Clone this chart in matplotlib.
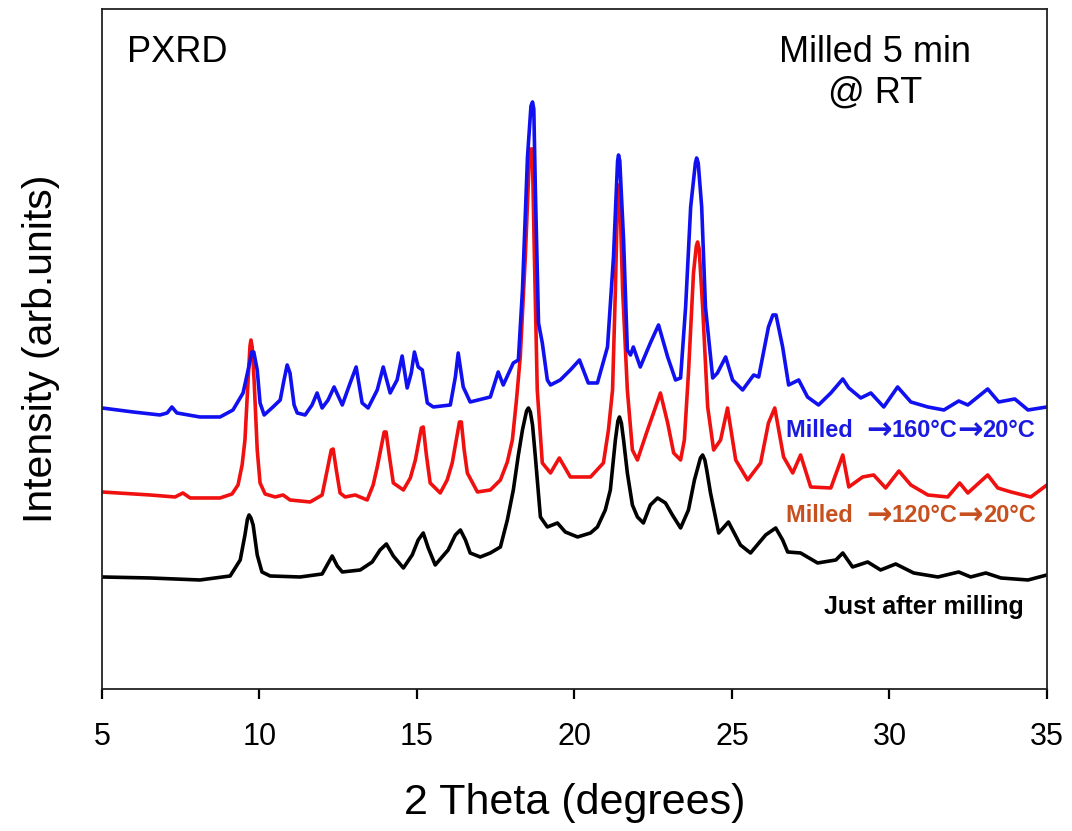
import matplotlib
matplotlib.use("Agg")
import matplotlib.pyplot as plt

plt.rcParams['font.family'] = ['Liberation Sans', 'DejaVu Sans']

# ---- data: 2 theta (degrees) and intensity (arb. units) ----
black_x = [5.00, 6.53, 8.11, 9.07, 9.39, 9.54, 9.62, 9.67, 9.73, 9.80, 9.93, 10.08, 10.34, 11.29, 11.99, 12.15, 12.31,
           12.47, 12.63, 13.20, 13.58, 13.83, 14.03, 14.25, 14.57, 14.85, 15.04, 15.20, 15.36, 15.58, 15.99,
           16.22, 16.38, 16.54, 16.69, 17.01, 17.33, 17.65, 17.87, 18.06, 18.22, 18.35, 18.48, 18.54, 18.60, 18.67, 18.76,
           18.92, 19.14, 19.46, 19.71, 20.10, 20.51, 20.73, 20.98, 21.14, 21.30, 21.38, 21.43, 21.49, 21.56, 21.68, 21.84,
           22.00, 22.19, 22.41, 22.64, 22.89, 23.11, 23.37, 23.62, 23.81, 24.00, 24.07, 24.14, 24.20, 24.32, 24.58, 24.89,
           25.27, 25.59, 26.07, 26.39, 26.61, 26.77, 27.18, 27.72, 28.30, 28.52, 28.83, 29.31, 29.72, 30.20,
           30.77, 31.54, 32.20, 32.58, 33.06, 33.54, 34.40, 35.00]
black_y = [112, 111, 109, 113, 129, 154, 170, 174, 171, 164, 134, 117, 113, 112, 115, 124, 133,
           123, 117, 119, 127, 139, 145, 133, 121, 134, 149, 156, 141, 124, 139,
           154, 159, 149, 136, 132, 136, 142, 169, 199, 234, 259, 278, 281, 277, 264, 232,
           172, 162, 166, 157, 152, 156, 162, 179, 199, 249, 268, 272, 266, 249, 216, 184,
           172, 166, 184, 191, 186, 174, 161, 179, 209, 231, 234, 229, 219, 196, 156, 167,
           144, 136, 154, 161, 149, 137, 136, 126, 129, 136, 122, 127, 119, 125,
           116, 112, 117, 112, 116, 111, 109, 114]

red_x = [5.00, 6.53, 7.32, 7.57, 7.80, 8.75, 9.13, 9.32, 9.45, 9.54, 9.64, 9.70, 9.73, 9.77, 9.83, 9.93, 10.02,
         10.18, 10.50, 10.75, 10.97, 11.61, 11.99, 12.12, 12.28, 12.34, 12.44, 12.56, 12.72, 13.04, 13.42, 13.61,
         13.74, 13.96, 14.02, 14.12, 14.25, 14.57, 14.79, 14.95, 15.14, 15.20, 15.30, 15.42, 15.74, 15.96, 16.12, 16.35,
         16.41, 16.50, 16.60, 16.92, 17.33, 17.65, 17.87, 18.03, 18.16, 18.28, 18.44, 18.57, 18.61, 18.66, 18.73, 18.82,
         18.98, 19.24, 19.52, 19.87, 20.51, 20.92, 21.08, 21.21, 21.30, 21.37, 21.40, 21.44, 21.53, 21.68, 21.84, 22.00,
         22.32, 22.51, 22.73, 22.96, 23.15, 23.37, 23.49, 23.62, 23.78, 23.87, 23.91, 23.96, 24.07, 24.23, 24.42, 24.64,
         24.86, 25.12, 25.50, 25.91, 26.16, 26.36, 26.64, 26.93, 27.18, 27.50, 28.14, 28.52, 28.71, 29.15,
         29.50, 29.88, 30.30, 30.68, 31.22, 31.85, 32.23, 32.49, 33.12, 33.44, 33.86, 34.49, 35.00]
red_y = [197, 194, 192, 196, 191, 191, 195, 204, 224, 249, 309, 343, 349, 342, 309, 239, 206,
         195, 192, 194, 189, 187, 194, 214, 239, 240, 219, 196, 192, 194, 189, 204,
         222, 257, 257, 234, 206, 199, 211, 229, 261, 262, 234, 206, 196, 209, 226, 267,
         267, 239, 216, 197, 199, 209, 227, 249, 289, 332, 432, 532, 540, 540, 432, 299,
         226, 216, 231, 212, 212, 226, 259, 299, 399, 495, 504, 495, 399, 299, 239, 229,
         259, 276, 296, 266, 236, 229, 249, 316, 416, 443, 447, 440, 382, 282, 239, 249,
         281, 229, 209, 226, 266, 281, 232, 216, 234, 202, 201, 234, 202, 212,
         214, 201, 218, 204, 194, 192, 206, 196, 214, 201, 197, 192, 204]

blue_x = [5.00, 5.99, 6.84, 7.07, 7.22, 7.38, 8.11, 8.75, 9.16, 9.48, 9.64, 9.76, 9.82, 9.93, 10.02, 10.15,
          10.43, 10.66, 10.78, 10.88, 10.97, 11.10, 11.20, 11.45, 11.67, 11.83, 11.99, 12.18, 12.37, 12.63,
          12.88, 13.07, 13.26, 13.45, 13.74, 13.93, 14.15, 14.37, 14.53, 14.69, 14.82, 14.92, 15.04, 15.17,
          15.33, 15.52, 16.06, 16.22, 16.31, 16.47, 16.69, 17.33, 17.58, 17.74, 18.06, 18.22, 18.35, 18.51,
          18.62, 18.67, 18.71, 18.76, 18.86, 18.98, 19.14, 19.24, 19.55, 19.87, 20.16, 20.44, 20.73, 21.05, 21.24,
          21.37, 21.40, 21.44, 21.56, 21.68, 21.78, 21.87, 22.09, 22.41, 22.67, 22.96, 23.21, 23.37, 23.53, 23.69,
          23.84, 23.88, 23.93, 24.04, 24.16, 24.39, 24.54, 24.80, 25.02, 25.34, 25.69, 25.85, 26.16, 26.30, 26.40,
          26.61, 26.80, 27.12, 27.40, 27.75, 28.14, 28.52, 28.71, 29.09, 29.41, 29.82, 30.26, 30.68, 31.22, 31.73,
          32.20, 32.49, 33.12, 33.47, 33.98, 34.40, 35.00]
blue_y = [281, 277, 274, 276, 282, 276, 272, 272, 279, 296, 319, 337, 337, 319, 286, 274,
          282, 289, 309, 324, 316, 284, 276, 274, 284, 296, 281, 289, 302, 284,
          306, 322, 286, 281, 299, 322, 296, 309, 333, 301, 316, 337, 322, 319,
          286, 282, 284, 312, 336, 302, 287, 292, 317, 304, 326, 329, 399, 532,
          583, 587, 580, 499, 366, 346, 309, 304, 309, 319, 329, 306, 306, 342, 432,
          528, 534, 528, 449, 339, 334, 342, 322, 346, 364, 332, 309, 311, 382, 482,
          526, 531, 526, 482, 382, 311, 316, 332, 309, 299, 314, 312, 362, 374, 374,
          342, 304, 309, 292, 284, 296, 310, 301, 291, 296, 282, 302, 287, 282, 279,
          288, 284, 300, 287, 290, 279, 282]

x_ticks = [5, 10, 15, 20, 25, 30, 35]

# ---- figure ----
fig = plt.figure(figsize=(10.72, 8.31), dpi=100)
ax = fig.add_axes([0.0951, 0.1709, 0.8815, 0.8183])

ax.plot(black_x, black_y, color='black', lw=2.6, solid_joinstyle='round')
ax.plot(red_x, red_y, color='#F01010', lw=2.6, solid_joinstyle='round')
ax.plot(blue_x, blue_y, color='#1010F0', lw=2.6, solid_joinstyle='round')

ax.set_xlim(5, 35)
ax.set_ylim(0, 680)
ax.set_xticks(x_ticks)
ax.set_xticklabels([str(t) for t in x_ticks])
ax.set_yticks([])
ax.tick_params(axis='x', direction='out', length=7, width=1.6, labelsize=22, pad=17)
for s in ax.spines.values():
    s.set_linewidth(1.3)
    s.set_color('#222222')

ax.set_xlabel('2 Theta (degrees)', fontsize=31, labelpad=22)
ax.set_ylabel('Intensity (arb.units)', fontsize=29.5, labelpad=30)

ax.text(0.027, 0.962, 'PXRD', transform=ax.transAxes, fontsize=26, ha='left', va='top')
ax.text(0.818, 0.962, 'Milled 5 min\n@ RT', transform=ax.transAxes, fontsize=26,
        ha='center', va='top', linespacing=1.22)


def piece_label(x0, y0, pieces, color):
    fig.canvas.draw()
    r = fig.canvas.get_renderer()
    xpix, ypix = ax.transData.transform((x0, y0))
    for txt, fam, size in pieces:
        t = ax.text(xpix, ypix, txt, transform=None, color=color, fontsize=size,
                    fontweight='bold', family=fam, ha='left', va='center_baseline')
        xpix = t.get_window_extent(renderer=r).x1


LIB = ['Liberation Sans', 'DejaVu Sans']
DJV = ['DejaVu Sans']
piece_label(26.71, 261, [('Milled  ', LIB, 17), ('\u2192', DJV, 22), ('160\u00b0C', LIB, 17),
                         ('\u2192', DJV, 22), ('20\u00b0C', LIB, 17)], '#1A1AE0')
piece_label(26.71, 176, [('Milled  ', LIB, 17), ('\u2192', DJV, 22), ('120\u00b0C', LIB, 17),
                         ('\u2192', DJV, 22), ('20\u00b0C', LIB, 17)], '#C8501E')
ax.text(34.25, 82, 'Just after milling', color='black', fontsize=18,
        fontweight='bold', ha='right', va='center')

fig.savefig('out.png', dpi=100)
